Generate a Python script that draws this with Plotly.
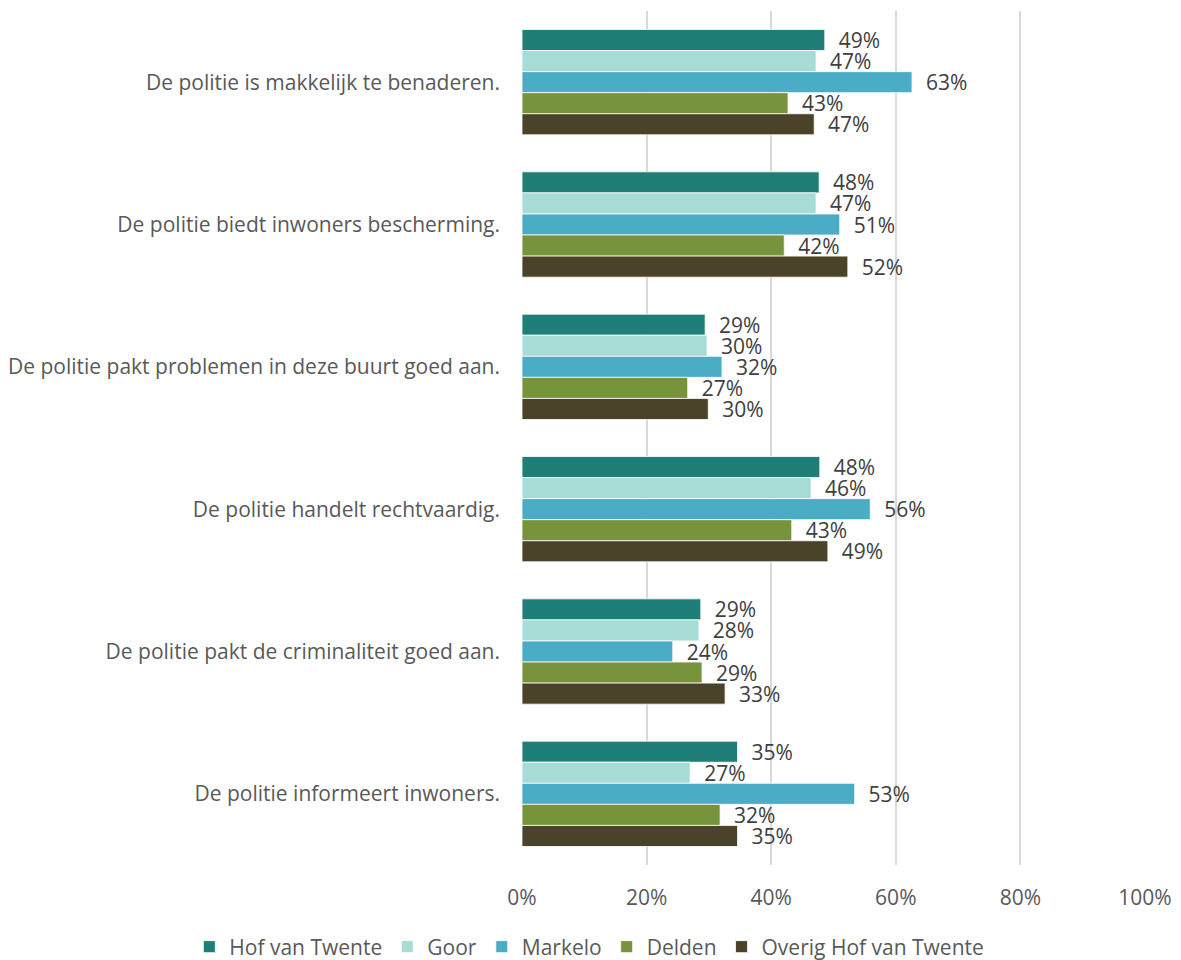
import plotly.graph_objects as go

categories = [
    "De politie is makkelijk te benaderen.",
    "De politie biedt inwoners bescherming.",
    "De politie pakt problemen in deze buurt goed aan.",
    "De politie handelt rechtvaardig.",
    "De politie pakt de criminaliteit goed aan.",
    "De politie informeert inwoners.",
]
series_names = ["Hof van Twente", "Goor", "Markelo", "Delden", "Overig Hof van Twente"]
hof_van_twente = [48.6, 47.7, 29.4, 47.8, 28.7, 34.6]
goor = [47.2, 47.2, 29.7, 46.4, 28.4, 27.0]
markelo = [62.6, 51.0, 32.1, 55.9, 24.2, 53.4]
delden = [42.7, 42.1, 26.6, 43.3, 28.9, 31.8]
overig = [46.9, 52.3, 29.9, 49.1, 32.6, 34.6]
labels_hvt = ["49%", "48%", "29%", "48%", "29%", "35%"]
labels_goor = ["47%", "47%", "30%", "46%", "28%", "27%"]
labels_markelo = ["63%", "51%", "32%", "56%", "24%", "53%"]
labels_delden = ["43%", "42%", "27%", "43%", "29%", "32%"]
labels_overig = ["47%", "52%", "30%", "49%", "33%", "35%"]
x_ticks = [0, 20, 40, 60, 80, 100]
x_ticklabels = ["0%", "20%", "40%", "60%", "80%", "100%"]

colors = ["#1F7F78", "#A6DCD5", "#4BACC6", "#77933C", "#4A4329"]
values = [hof_van_twente, goor, markelo, delden, overig]
labels = [labels_hvt, labels_goor, labels_markelo, labels_delden, labels_overig]

FONT = "Open Sans"
FS = 21
fig = go.Figure()
for name, vals, labs, col in zip(series_names, values, labels, colors):
    fig.add_trace(go.Bar(
        y=categories, x=vals, name=name, orientation="h",
        marker=dict(color=col, line=dict(color="white", width=0.8)),
        text=["\u00a0\u00a0" + t for t in labs],
        textposition="outside", constraintext="none", cliponaxis=False,
        textfont=dict(family=FONT, size=FS, color="#404040"),
        hoverinfo="skip",
    ))

fig.update_layout(
    width=1181, height=960,
    barmode="group", bargap=0.26, bargroupgap=0,
    plot_bgcolor="white", paper_bgcolor="white",
    margin=dict(l=522, r=36, t=11, b=95, autoexpand=False),
    font=dict(family=FONT, size=FS, color="#595959"),
    xaxis=dict(range=[0, 100], tickvals=x_ticks, ticktext=x_ticklabels,
               showgrid=True, gridcolor="#D9D9D9", gridwidth=1.5,
               zeroline=False, showline=False, ticks="", ticklabelstandoff=18,
               automargin=False,
               tickfont=dict(family=FONT, size=FS, color="#595959")),
    yaxis=dict(autorange="reversed", showgrid=False, ticks="", showline=False,
               ticklabelstandoff=21, automargin=False,
               tickfont=dict(family=FONT, size=FS, color="#595959")),
    legend=dict(orientation="h", x=-0.534, xanchor="left", y=-0.096, yanchor="middle",
                font=dict(family=FONT, size=FS, color="#595959"),
                traceorder="normal", itemwidth=30),
    showlegend=True,
)

fig.write_html("out.html", config={"displayModeBar": False},
               post_script="document.body.style.margin='0';")
